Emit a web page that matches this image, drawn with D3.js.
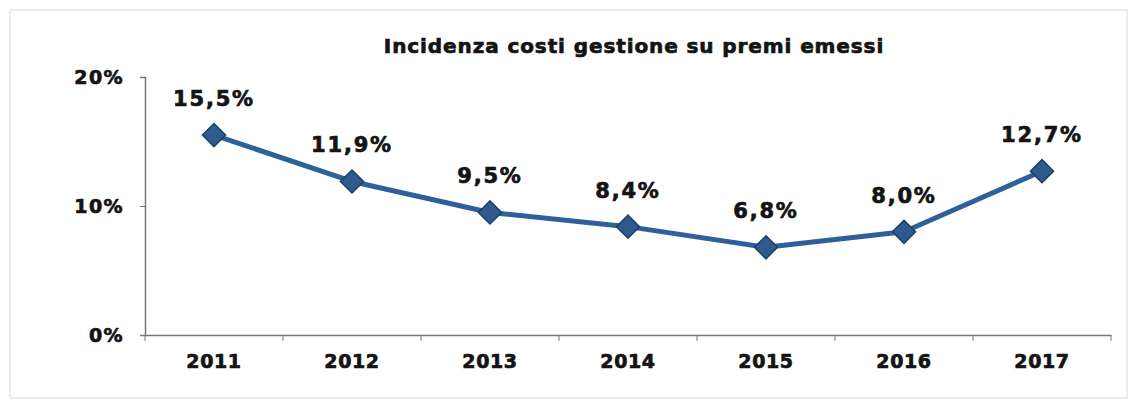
<!DOCTYPE html>
<html>
<head>
<meta charset="utf-8">
<script src="https://cdn.jsdelivr.net/npm/d3@7"></script>
<style>
  body { margin: 0; background: #fff; }
  text { font-family: "DejaVu Sans", Verdana, sans-serif; font-weight: bold; fill: #141414;
         stroke: #141414; stroke-width: 0.7px; }
</style>
</head>
<body>
<svg width="1139" height="404"></svg>
<script>
// chart data
const years = ["2011", "2012", "2013", "2014", "2015", "2016", "2017"];
const values = [15.5, 11.9, 9.5, 8.4, 6.8, 8.0, 12.7];
const yTicks = [0, 10, 20];
const title = "Incidenza costi gestione su premi emessi";

const svg = d3.select("svg");
const margin = { left: 145, right: 28, top: 77, bottom: 69 };
const width = +svg.attr("width");
const height = +svg.attr("height");

// outer frame
svg.append("rect")
  .attr("x", 10).attr("y", 10)
  .attr("width", width - 22).attr("height", height - 16)
  .attr("fill", "none")
  .attr("stroke", "#e6e6e6")
  .attr("stroke-width", 1.5);

const x = d3.scaleBand()
  .domain(years)
  .range([margin.left, width - margin.right]);

const y = d3.scaleLinear()
  .domain([0, 20])
  .range([height - margin.bottom, margin.top]);

// title
svg.append("text")
  .attr("x", 634).attr("y", 53)
  .attr("text-anchor", "middle")
  .style("font-size", "20px")
  .style("letter-spacing", "0.9px")
  .text(title);

// y axis
const yAxis = svg.append("g")
  .attr("transform", "translate(" + margin.left + ",0)")
  .call(d3.axisLeft(y).tickValues(yTicks).tickSize(5).tickPadding(16)
    .tickFormat(function(d) { return d + "%"; }));
yAxis.selectAll("text")
  .style("font-size", "19px")
  .style("letter-spacing", "1.4px")
  .attr("dy", "0.36em");

// x axis
const xAxis = svg.append("g")
  .attr("transform", "translate(0," + y(0) + ")")
  .call(d3.axisBottom(x).tickSize(0).tickPadding(20));
xAxis.selectAll("text")
  .style("font-size", "19px")
  .style("letter-spacing", "0.6px");

// band boundary ticks, like excel
xAxis.selectAll("line.bound")
  .data(years.concat(["end"]))
  .join("line")
  .attr("class", "bound")
  .attr("x1", function(d, i) { return margin.left + i * x.step(); })
  .attr("x2", function(d, i) { return margin.left + i * x.step(); })
  .attr("y1", 0).attr("y2", 6)
  .attr("stroke", "#777");

svg.selectAll(".domain").attr("stroke", "#777").attr("stroke-width", 1.5);
svg.selectAll(".tick line").attr("stroke", "#777");

// the line
const cx = function(d, i) { return x(years[i]) + x.bandwidth() / 2; };
const line = d3.line()
  .x(function(d, i) { return cx(d, i); })
  .y(function(d) { return y(d); });

svg.append("path")
  .datum(values)
  .attr("d", line)
  .attr("fill", "none")
  .attr("stroke", "#30609a")
  .attr("stroke-width", 5)
  .attr("stroke-linejoin", "round");

// diamond markers
svg.append("g")
  .selectAll("path")
  .data(values)
  .join("path")
  .attr("d", d3.symbol().type(d3.symbolDiamond2).size(340))
  .attr("transform", function(d, i) { return "translate(" + cx(d, i) + "," + y(d) + ")"; })
  .attr("fill", "#2e5a8e")
  .attr("stroke", "#1e3f68")
  .attr("stroke-width", 1.5);

// data labels
svg.append("g")
  .selectAll("text")
  .data(values)
  .join("text")
  .attr("x", function(d, i) { return cx(d, i); })
  .attr("y", function(d) { return y(d) - 29; })
  .attr("text-anchor", "middle")
  .style("font-size", "21px")
  .style("letter-spacing", "1.8px")
  .text(function(d) { return d.toFixed(1).replace(".", ",") + "%"; });
</script>
</body>
</html>
